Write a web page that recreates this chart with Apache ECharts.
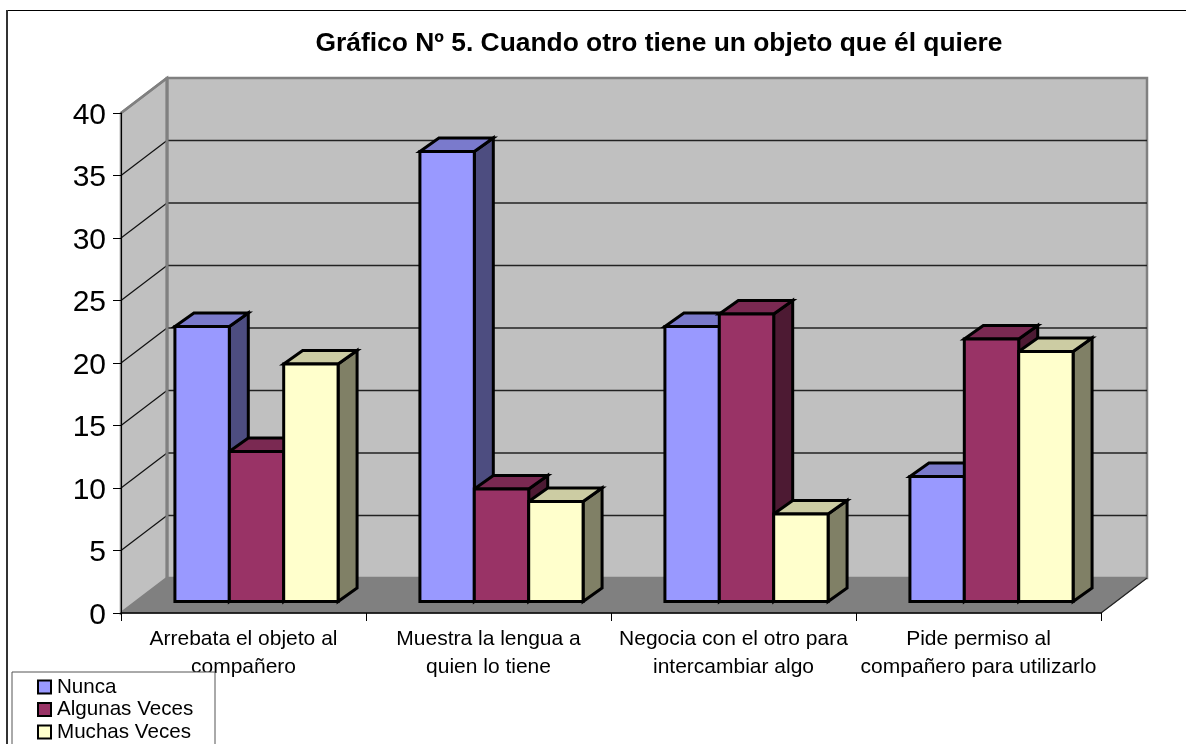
<!DOCTYPE html>
<html>
<head>
<meta charset="utf-8">
<style>html,body{margin:0;padding:0;background:#fff;overflow:hidden}#c{width:1186px;height:744px}</style>
<script src="https://cdn.jsdelivr.net/npm/echarts@6/dist/echarts.min.js"></script>
</head>
<body>
<div id="c"></div>
<script>
const titleText = 'Gráfico Nº 5. Cuando otro tiene un objeto que él quiere';
const categories = [
  'Arrebata el objeto al\ncompañero',
  'Muestra la lengua a\nquien lo tiene',
  'Negocia con el otro para\nintercambiar algo',
  'Pide permiso al\ncompañero para utilizarlo'
];
const nunca = [22, 36, 22, 10];
const algunasVeces = [12, 9, 23, 21];
const muchasVeces = [19, 8, 7, 20];
const tickValues = [0, 5, 10, 15, 20, 25, 30, 35, 40];

const FONT = '"Liberation Sans", Arial, sans-serif';
const WALL = { dx: 46, dy: -35 };
const BAR = { dx: 13, dy: -11.5, depthX: 19, depthY: -13.5, widthRatio: 0.222 };
const MAX_V = tickValues[tickValues.length - 1];

const chart = echarts.init(document.getElementById('c'), null, { renderer: 'canvas' });

function poly(points, fill, stroke, lw, z2) {
  return { type: 'polygon', z2: z2 || 0, silent: true, shape: { points },
    style: { fill, stroke: stroke || 'none', lineWidth: lw || 0, lineJoin: 'miter' } };
}
function seg(p, q, stroke, lw, z2) {
  return { type: 'line', z2: z2 || 0, silent: true,
    shape: { x1: p[0], y1: p[1], x2: q[0], y2: q[1] },
    style: { stroke, lineWidth: lw } };
}
function renderWalls(params, api) {
  const n = categories.length;
  const band = api.size([1, 0])[0];
  const l = api.coord([0, 0])[0] - band / 2;
  const r = api.coord([n - 1, 0])[0] + band / 2;
  const y0 = api.coord([0, 0])[1];
  const yT = api.coord([0, MAX_V])[1];
  const d = WALL;
  const kids = [
    poly([[l + d.dx, yT + d.dy], [r + d.dx, yT + d.dy], [r + d.dx, y0 + d.dy], [l + d.dx, y0 + d.dy]], '#c0c0c0', '#808080', 2.5),
    poly([[l, y0], [l, yT], [l + d.dx, yT + d.dy], [l + d.dx, y0 + d.dy]], '#c0c0c0', '#808080', 2.5),
    poly([[l, y0], [r, y0], [r + d.dx, y0 + d.dy], [l + d.dx, y0 + d.dy]], '#808080', '#808080', 1)
  ];
  tickValues.forEach(function (v) {
    if (v === 0 || v === MAX_V) return;
    const y = api.coord([0, v])[1];
    kids.push(seg([l, y], [l + d.dx, y + d.dy], '#111', 1.2, 2));
    kids.push(seg([l + d.dx, y + d.dy], [r + d.dx, y + d.dy], '#222', 1.4, 2));
  });
  kids.push(seg([l + d.dx, yT + d.dy], [l + d.dx, y0 + d.dy], '#808080', 3, 3));
  kids.push(seg([l, yT], [l + d.dx, yT + d.dy], '#808080', 2.5, 3));
  kids.push(seg([r, y0], [r + d.dx, y0 + d.dy], '#222', 1.2, 3));
  return { type: 'group', children: kids };
}
function barRenderer(slot, front, top, side) {
  return function (params, api) {
    const base = api.coord([api.value(0), 0]);
    const head = api.coord([api.value(0), api.value(1)]);
    const band = api.size([1, 0])[0];
    const w = band * BAR.widthRatio;
    const x0 = base[0] + BAR.dx + (slot - 1.5) * w;
    const x1 = x0 + w;
    const yb = base[1] + BAR.dy;
    const yt = head[1] + BAR.dy;
    const ax = BAR.depthX, ay = BAR.depthY;
    const black = '#000';
    return { type: 'group', children: [
      poly([[x1, yb], [x1, yt], [x1 + ax, yt + ay], [x1 + ax, yb + ay]], side, black, 3, 1),
      poly([[x0, yt], [x1, yt], [x1 + ax, yt + ay], [x0 + ax, yt + ay]], top, black, 3, 1),
      poly([[x0, yb], [x1, yb], [x1, yt], [x0, yt]], front, black, 3, 2)
    ] };
  };
}
function barSeries(name, values, slot, front, top, side) {
  return {
    type: 'custom', name, z: 2, clip: false, silent: true,
    coordinateSystem: 'cartesian2d',
    itemStyle: { color: front, borderColor: '#000', borderWidth: 2 },
    encode: { x: 0, y: 1 },
    data: values.map(function (v, i) { return [i, v]; }),
    renderItem: barRenderer(slot, front, top, side)
  };
}

chart.setOption({
  animation: false,
  backgroundColor: '#fff',
  title: {
    text: titleText, left: 654, top: 26, textAlign: 'center',
    textStyle: { fontFamily: FONT, fontSize: 26.4, fontWeight: 'bold', color: '#000' }
  },
  grid: { left: 121, right: 85, top: 113, bottom: 131, containLabel: false },
  xAxis: {
    type: 'category', data: categories, z: 3,
    axisLine: { show: true, lineStyle: { color: '#000', width: 1.5 } },
    axisTick: { show: true, length: 8, alignWithLabel: false, lineStyle: { color: '#000', width: 1 } },
    axisLabel: { interval: 0, margin: 12, color: '#000', fontFamily: FONT, fontSize: 21, lineHeight: 28, hideOverlap: false },
    splitLine: { show: false }
  },
  yAxis: {
    type: 'value', min: 0, max: MAX_V, interval: 5, z: 3,
    axisLine: { show: true, lineStyle: { color: '#000', width: 1 } },
    axisTick: { show: true, length: 8, lineStyle: { color: '#000', width: 1 } },
    axisLabel: { margin: 15, color: '#000', fontFamily: FONT, fontSize: 30, verticalAlign: 'top', lineHeight: 5 },
    splitLine: { show: false }
  },
  legend: {
    orient: 'vertical', left: 12, top: 672, z: 20,
    padding: [4.5, 10, 0, 25], itemWidth: 13, itemHeight: 13, itemGap: 1.5,
    icon: 'rect',
    selectedMode: false,
    itemStyle: { borderColor: '#000', borderWidth: 2 },
    textStyle: { fontFamily: FONT, fontSize: 20.6, color: '#000', padding: [0, 0, 0, 1] },
    data: ['Nunca', 'Algunas Veces', 'Muchas Veces']
  },
  graphic: { elements: [
    { type: 'line', silent: true, z: 10, shape: { x1: 6, y1: 10.5, x2: 1186, y2: 10.5 }, style: { stroke: '#000', lineWidth: 1 } },
    { type: 'line', silent: true, z: 10, shape: { x1: 7, y1: 10, x2: 7, y2: 744 }, style: { stroke: '#333', lineWidth: 2 } },
    { type: 'rect', silent: true, z: 10, shape: { x: 12, y: 672, width: 203, height: 90 }, style: { fill: '#fff', stroke: '#555', lineWidth: 1 } }
  ] },
  series: [
    { type: 'custom', name: 'walls', z: 1, clip: false, silent: true, coordinateSystem: 'cartesian2d',
      encode: { x: 0, y: 1 }, data: [[0, 0]], renderItem: renderWalls },
    barSeries('Nunca', nunca, 0, '#9999ff', '#7a7acc', '#4d4d80'),
    barSeries('Algunas Veces', algunasVeces, 1, '#993366', '#7a2952', '#4d1a33'),
    barSeries('Muchas Veces', muchasVeces, 2, '#ffffcc', '#ccccA3', '#808066')
  ]
});
</script>
</body>
</html>
